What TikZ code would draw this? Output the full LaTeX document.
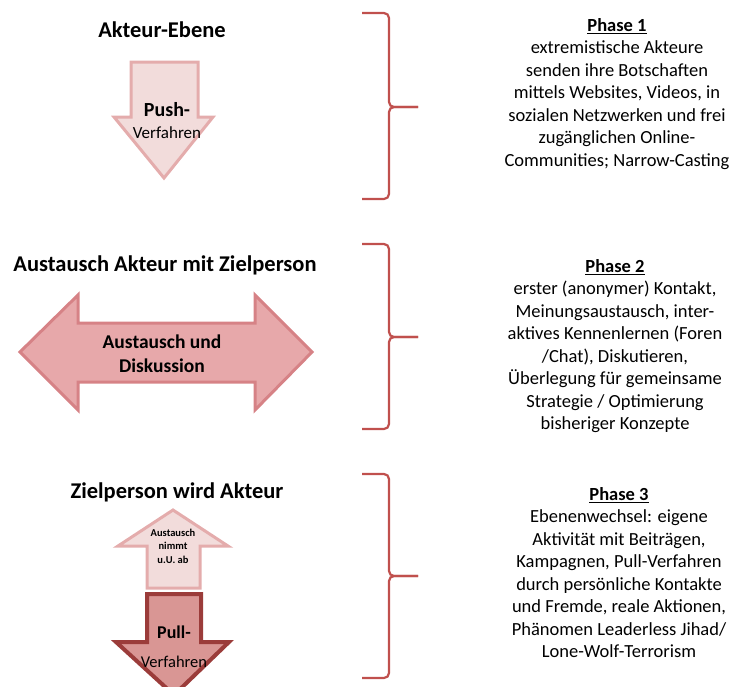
\documentclass[tikz,border=0pt]{standalone}
\usepackage{fontspec}
\setmainfont{Carlito}
\definecolor{bracered}{RGB}{192,80,77}
\definecolor{pushfill}{RGB}{242,220,219}
\definecolor{pushline}{RGB}{228,172,172}
\definecolor{swapfill}{RGB}{231,168,170}
\definecolor{swapline}{RGB}{214,130,134}
\definecolor{pullfill}{RGB}{217,150,148}
\definecolor{pullline}{RGB}{155,60,58}

\begin{document}
\begin{tikzpicture}[x=1pt, y=-1pt,
  heading/.style={font=\fontsize{22.5}{26}\selectfont\bfseries},
  phasetext/.style={align=center, anchor=north, inner sep=0pt,
    font=\fontsize{18.5}{22.5}\selectfont},
  inarrow/.style={align=center, inner sep=0pt},
  brace/.style={bracered, line width=2.2pt, rounded corners=5pt}]
  \useasboundingbox (0,0) rectangle (736,686);

  % --- Akteur-Ebene ---
  \node[heading] (akteur) at (162,30) {Akteur-Ebene};
  \filldraw[fill=pushfill, draw=pushline, line width=3pt]
    (131,62) -- (198,62) -- (198,117) -- (213,117) -- (164,178)
    -- (114,117) -- (131,117) -- cycle;
  \node[inarrow, font=\fontsize{17}{22}\selectfont] (push) at (167,121)
    {\textbf{\fontsize{20}{22}\selectfont Push-}\\Verfahren};

  % --- Austausch ---
  \node[heading] (austausch) at (165,265) {Austausch Akteur mit Zielperson};
  \filldraw[fill=swapfill, draw=swapline, line width=3pt]
    (20,352) -- (78,295) -- (78,323) -- (255,323) -- (255,295) -- (312,352)
    -- (255,410) -- (255,382) -- (78,382) -- (78,410) -- cycle;
  \node[inarrow, font=\fontsize{19.5}{24}\selectfont\bfseries] (diskussion) at (162,354)
    {Austausch und\\Diskussion};

  % --- Zielperson wird Akteur ---
  \node[heading] (ziel) at (177,492) {Zielperson wird Akteur};
  \filldraw[fill=pushfill, draw=pushline, line width=3pt]
    (147,588) -- (147,546) -- (118,546) -- (173,510) -- (228,546)
    -- (200,546) -- (200,588) -- cycle;
  \node[inarrow, font=\fontsize{10.5}{13.5}\selectfont\bfseries] (nimmtab) at (173,546)
    {Austausch\\nimmt\\u.U. ab};
  \filldraw[fill=pullfill, draw=pullline, line width=4pt]
    (147,594) -- (201,594) -- (201,642) -- (229,642) -- (174,695)
    -- (116,642) -- (147,642) -- cycle;
  \node[inarrow, font=\fontsize{16.5}{29}\selectfont] (pull) at (174,647)
    {\textbf{\fontsize{18}{29}\selectfont Pull-}\\Verfahren};

  % --- Klammern ---
  \foreach \ya/\yb/\yc in {13/107/199, 244/337/429, 474/576/678} {
    \draw[brace] (362,\ya) -- (389,\ya) -- (389,\yb) -- (418,\yb);
    \draw[brace] (362,\yc) -- (389,\yc) -- (389,\yb) -- (418,\yb);
  }

  % --- Phasen ---
  \node[phasetext] (phaseA) at (617,18) {\underline{\textbf{Phase 1}}\\
    extremistische Akteure\\
    senden ihre Botschaften\\
    mittels Websites, Videos, in\\
    sozialen Netzwerken und frei\\
    zugänglichen Online-\\
    Communities; Narrow-Casting};
  \node[phasetext] (phaseB) at (615,259) {\underline{\textbf{Phase 2}}\\
    erster (anonymer) Kontakt,\\
    Meinungsaustausch, inter-\\
    aktives Kennenlernen (Foren\\
    /Chat), Diskutieren,\\
    Überlegung für gemeinsame\\
    Strategie / Optimierung\\
    bisheriger Konzepte};
  \node[phasetext] (phaseC) at (619,487) {\underline{\textbf{Phase 3}}\\
    Ebenenwechsel: eigene\\
    Aktivität mit Beiträgen,\\
    Kampagnen, Pull-Verfahren\\
    durch persönliche Kontakte\\
    und Fremde, reale Aktionen,\\
    Phänomen Leaderless Jihad/\\
    Lone-Wolf-Terrorism};
\end{tikzpicture}
\end{document}
